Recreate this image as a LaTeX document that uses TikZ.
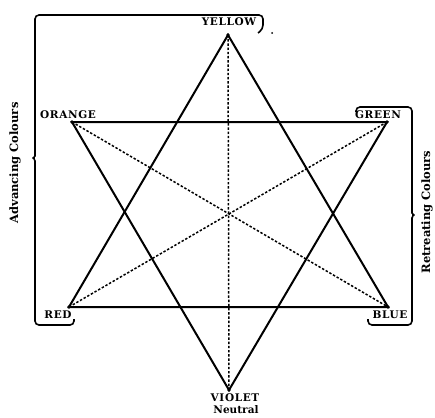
\documentclass[tikz,border=0pt]{standalone}
\usepackage{fontspec}
\setmainfont{DejaVu Serif}
\newfontfamily\lblfont[LetterSpace=6]{DejaVu Serif}
\begin{document}
\begin{tikzpicture}[x=1pt,y=-1pt,
  solidline/.style={line width=2pt,line join=miter},
  dotline/.style={line width=1.5pt,dash pattern=on 2.4pt off 1.8pt},
  bracket/.style={line width=1.6pt,rounded corners=4pt},
  vlabel/.style={font=\lblfont\fontsize{10.5}{10.5}\selectfont\bfseries,inner sep=0pt},
  sidelabel/.style={font=\fontsize{11.5}{12}\selectfont\bfseries,inner sep=0pt,rotate=90},
  vdot/.style={circle,fill=black,inner sep=0pt,minimum size=3.8pt}]
\useasboundingbox (0,0) rectangle (435,417);
% vertices
\coordinate (Y) at (228,35);
\coordinate (O) at (72,122);
\coordinate (G) at (387,122);
\coordinate (R) at (69,307);
\coordinate (B) at (388,307);
\coordinate (V) at (229,390);
\foreach \p in {Y,O,G,R,B,V} \node[vdot] at (\p) {};
% solid triangles
\draw[solidline] (Y) -- (R) -- (B) -- cycle;
\draw[solidline] (O) -- (G) -- (V) -- cycle;
% dotted diagonals
\draw[dotline] (Y) -- (V);
\draw[dotline] (O) -- (B);
\draw[dotline] (G) -- (R);
% labels
\node[vlabel] (lY) at (229,22) {YELLOW};
\node[vlabel] (lO) at (68,115) {ORANGE};
\node[vlabel] (lG) at (378,115) {GREEN};
\node[vlabel] (lR) at (58,315) {RED};
\node[vlabel] (lB) at (390,315) {BLUE};
\node[vlabel] (lV) at (235,398) {VIOLET};
\node[font=\fontsize{10.5}{10.5}\selectfont\bfseries,inner sep=0pt] (lN) at (236,410) {Neutral};
% left bracket
\draw[bracket] (258,33) -- (263,29) -- (263,15) -- (35,15) -- (35,152)
  .. controls (35,156) and (33,158) .. (30,158)
  .. controls (33,158) and (35,160) .. (35,165)
  -- (35,325) -- (74,325) -- (74,319);
\node[sidelabel] (lAdv) at (15,163) {Advancing Colours};
% right bracket
\draw[bracket] (356,112) -- (356,107) -- (412,107) -- (412,209)
  .. controls (412,213) and (414,215) .. (417,215)
  .. controls (414,215) and (412,217) .. (412,222)
  -- (412,325) -- (368,325) -- (368,319);
\node[sidelabel] (lRet) at (427,212) {Retreating Colours};
% stray dot
\fill (272,33) circle (1pt);
\end{tikzpicture}
\end{document}
